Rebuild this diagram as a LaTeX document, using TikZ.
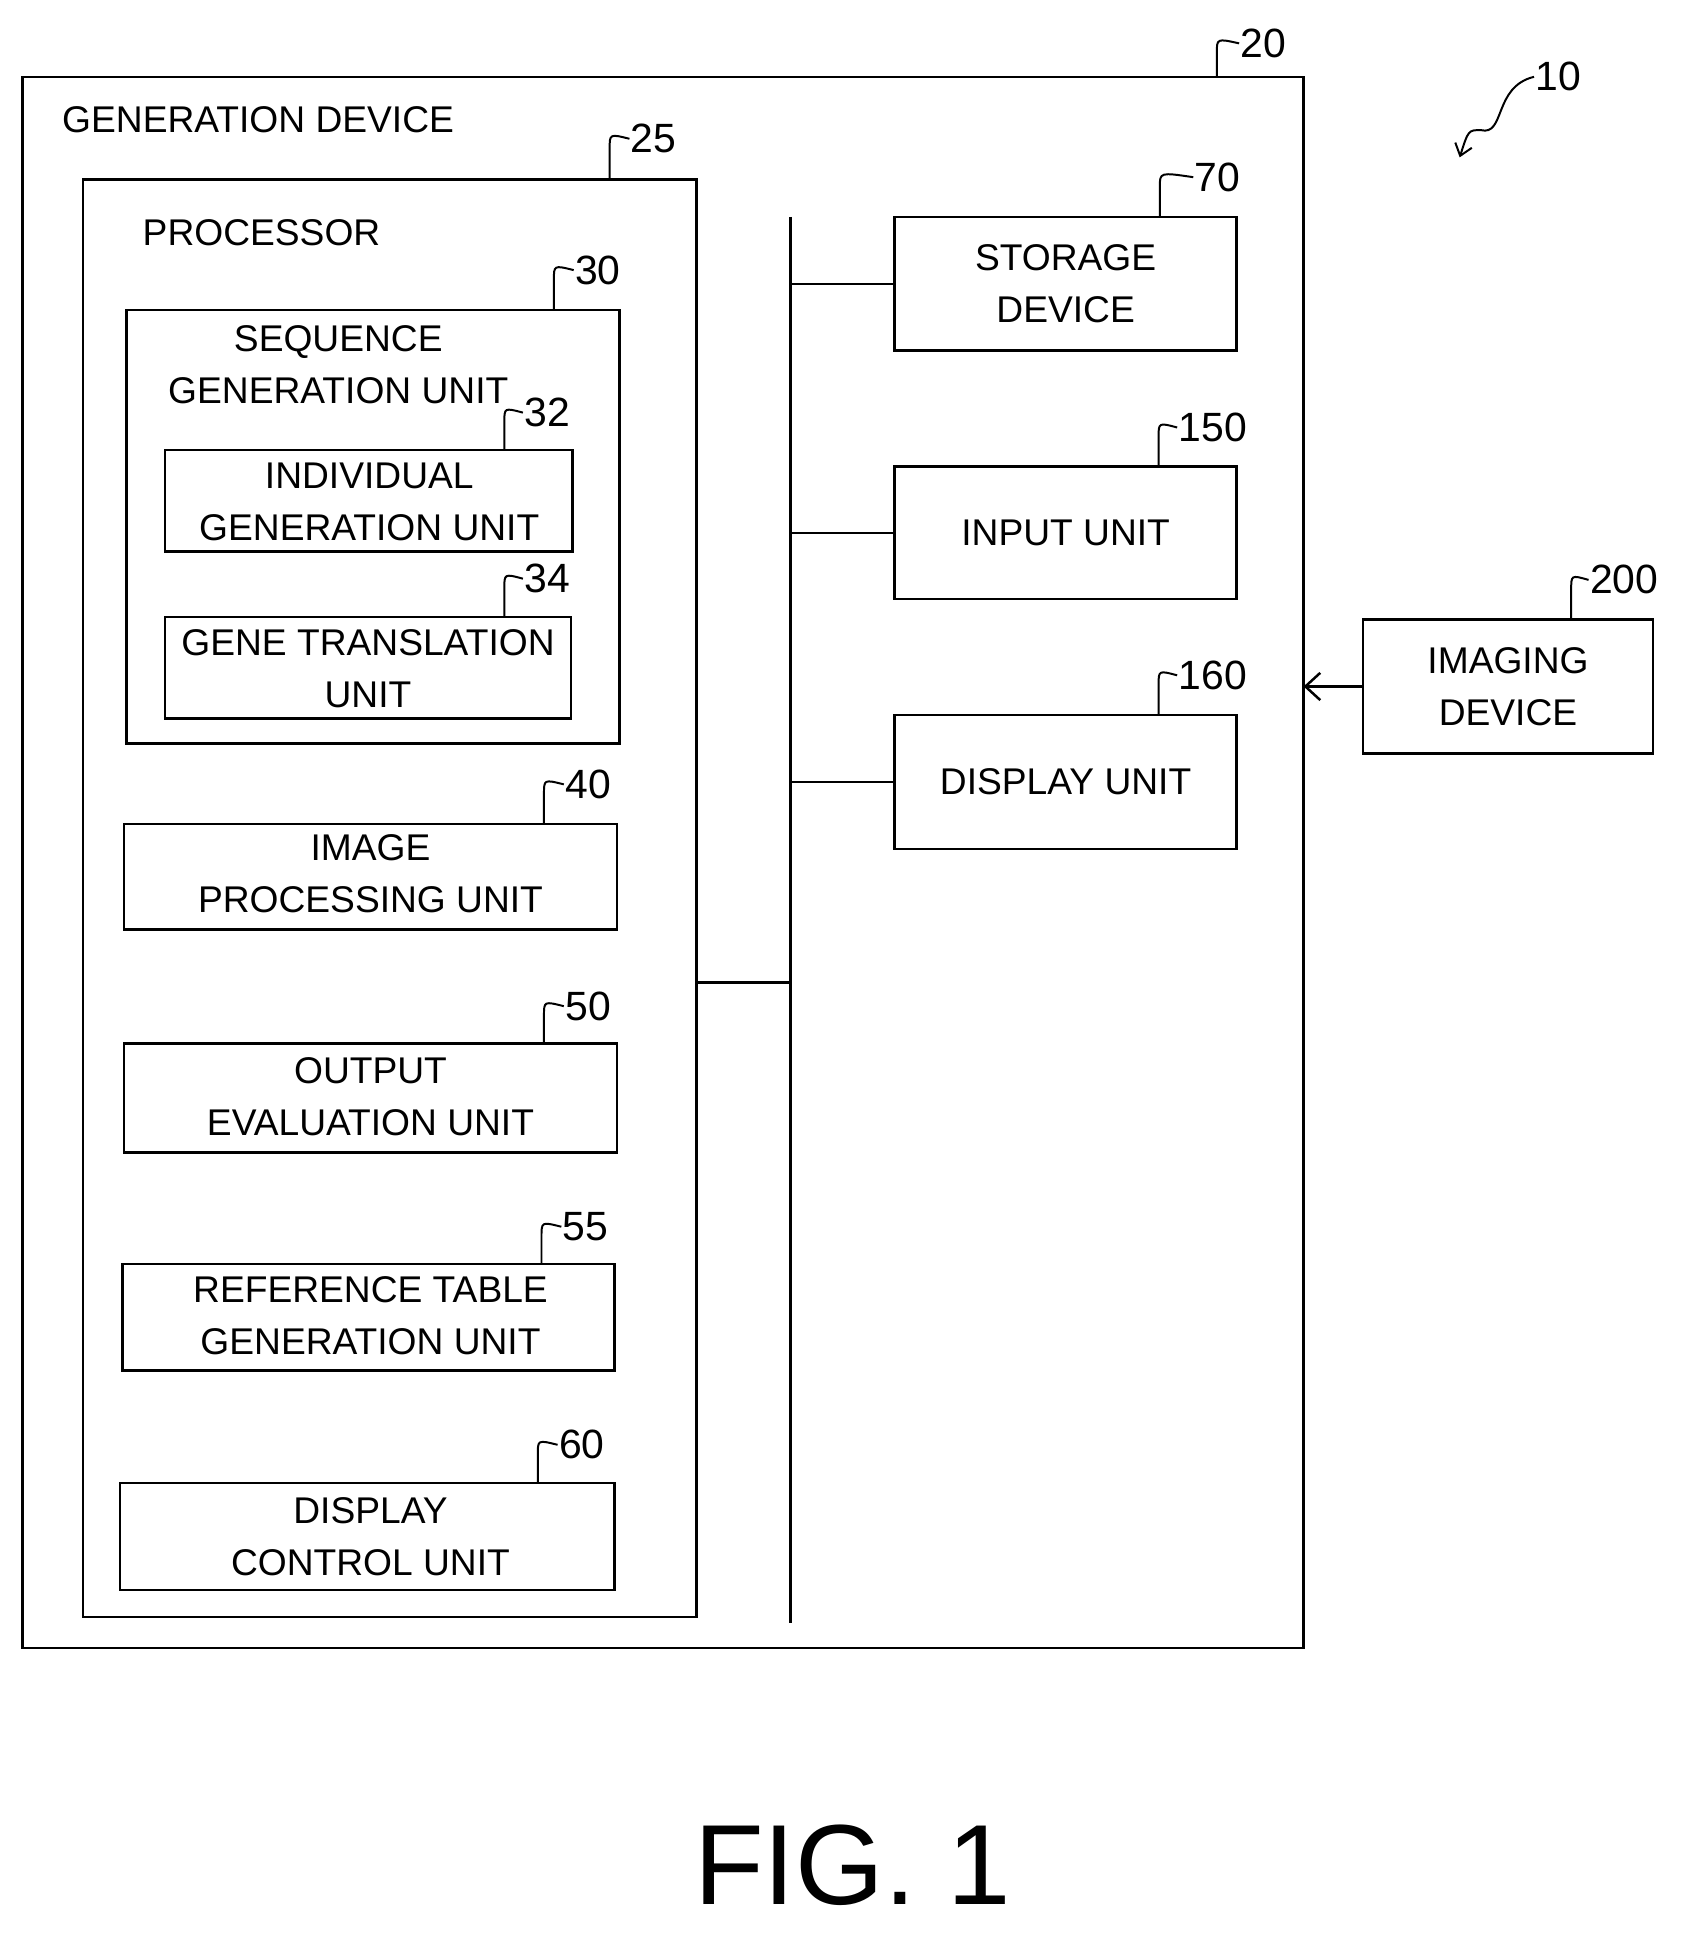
\documentclass[tikz,border=0pt]{standalone}
\usepackage{fontspec}
\setmainfont{Liberation Sans}
\usetikzlibrary{arrows.meta}
\begin{document}
\begin{tikzpicture}[x=1pt,y=-1pt,
  box/.style={draw,line width=2pt,inner sep=0pt},
  txt/.style={font=\fontsize{30}{42}\selectfont,align=center,inner sep=0pt},
  num/.style={font=\fontsize{33}{40}\selectfont,inner sep=1pt,anchor=west},
  lead/.style={line width=1.6pt}]
\useasboundingbox (0,0) rectangle (1360,1560);
\draw[box] (18,62) rectangle (1052,1330);
\node[txt,anchor=west] (gd) at (50,97) {GENERATION DEVICE};
\draw[box] (67,145) rectangle (562,1305);
\node[txt,anchor=west] (pr) at (115,188) {PROCESSOR};
\draw[box] (102,250) rectangle (500,600);
\node[txt] (b30) at (273,294) {SEQUENCE\\GENERATION UNIT};
\draw[box] (133,363) rectangle (462,445);
\node[txt] (b32) at (298,405) {INDIVIDUAL\\GENERATION UNIT};
\draw[box] (133,498) rectangle (461,580);
\node[txt] (b34) at (297,540) {GENE TRANSLATION\\UNIT};
\draw[box] (100,665) rectangle (498,750);
\node[txt] (b40) at (299,705) {IMAGE\\PROCESSING UNIT};
\draw[box] (100,842) rectangle (498,930);
\node[txt] (b50) at (299,885) {OUTPUT\\EVALUATION UNIT};
\draw[box] (99,1020) rectangle (496,1106);
\node[txt] (b55) at (299,1062) {REFERENCE TABLE\\GENERATION UNIT};
\draw[box] (97,1197) rectangle (496,1283);
\node[txt] (b60) at (299,1240) {DISPLAY\\CONTROL UNIT};
\node[box,minimum width=276pt,minimum height=108pt,txt,draw] (b70) at (860,229) {STORAGE\\DEVICE};
\node[box,minimum width=276pt,minimum height=107pt,txt,draw] (b150) at (860,430) {INPUT UNIT};
\node[box,minimum width=276pt,minimum height=108pt,txt,draw] (b160) at (860,631) {DISPLAY UNIT};
\node[box,minimum width=234pt,minimum height=108pt,txt,draw] (b200) at (1217,554) {IMAGING\\DEVICE};
\coordinate (bt) at (638,175); \coordinate (bb) at (638,1310);
\draw[line width=2pt] (bt) -- (bb);
\draw[line width=2pt] (562,793) -- (638,793);
\draw[line width=2pt] (638,229) -- (b70.west);
\draw[line width=2pt] (638,430) -- (b150.west);
\draw[line width=2pt] (638,631) -- (b160.west);
\coordinate (ob) at (1052,554);
\draw[line width=2pt,-{Straight Barb[length=12pt,width=22pt]}] (b200.west) -- (ob);
\foreach \n/\x/\y/\t/\bxx/\byy in {l20/1000/35/20/982/62, l25/508/112/25/492/145, l30/463/218/30/447/250,
  l32/422/333/32/407/363, l34/422/467/34/407/498, l40/455/633/40/439/665, l50/455/812/50/439/842,
  l55/453/990/55/437/1020, l60/450/1166/60/434/1197, l70/963/143/70/936/175, l150/950/345/150/935/376,
  l160/950/545/160/935/577, l200/1282/468/200/1268/500}{
  \node[num] (\n) at (\x,\y) {\t};
  \draw[lead] (\bxx,\byy) -- (\bxx,\y+8) .. controls (\bxx,\y-4) .. (\n.west);
}
\node[num] (l10) at (1238,62) {10};
\coordinate (a10) at (1178,127);
\draw[lead,-{Straight Barb[length=9pt,width=14pt]}] (l10.west) .. controls (1205,70) and (1215,110) .. (1195,105) .. controls (1185,105) .. (a10);
\node[font=\fontsize{92}{100}\selectfont,inner sep=0pt] (fig) at (688,1505) {FIG. 1};
\end{tikzpicture}
\end{document}
